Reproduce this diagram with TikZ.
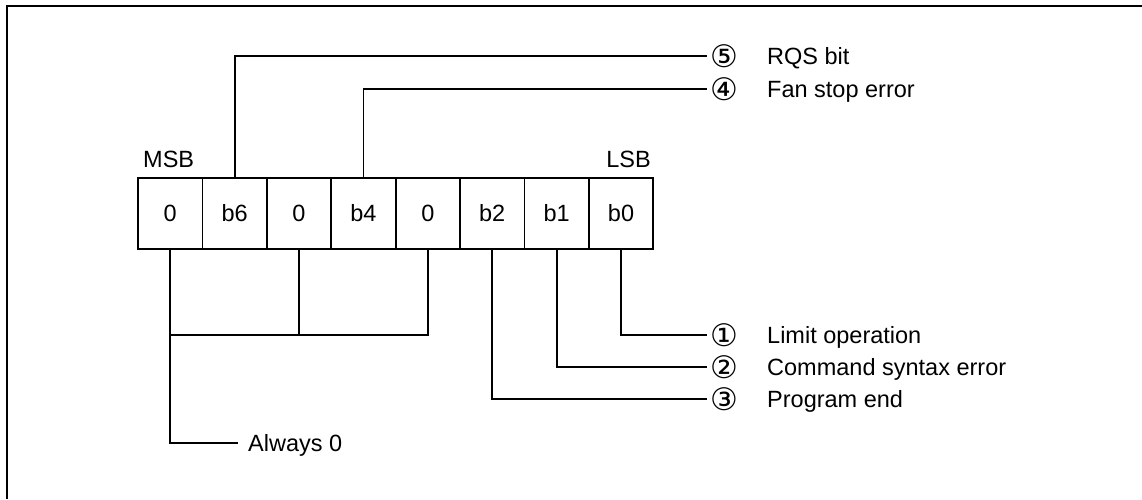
\documentclass[tikz,border=0pt]{standalone}
\usepackage{fontspec}
\setmainfont{Liberation Sans}
\newfontfamily\circfont{DejaVu Sans}
\begin{document}
\begin{tikzpicture}[x=1pt,y=-1pt,
  cell/.style={draw,line width=1.8pt,minimum width=64.4pt,minimum height=71pt,inner sep=0pt,font=\fontsize{23.5}{26}\selectfont},
  lbl/.style={anchor=base west,inner sep=0pt,font=\fontsize{23.5}{26}\selectfont},
  num/.style={anchor=west,inner sep=0pt,font=\circfont\fontsize{31}{34}\selectfont},
  wire/.style={line width=1.8pt}]
\useasboundingbox (0,0) rectangle (1142,499);
% frame
\draw[line width=2.6pt] (7,499) -- (7,6) -- (1142,6);
% register cells
\foreach \n/\t [count=\i from 0] in {c7/0,c6/b6,c5/0,c4/b4,c3/0,c2/b2,c1/b1,c0/b0}
  \node[cell] (\n) at ({170.2+64.4*\i},213.5) {\t};
\node[lbl] (msb) at (143,167) {MSB};
\node[lbl,anchor=base east] (lsb) at (651,167) {LSB};
% right side labels
\foreach \k/\y/\txt in {5/56/RQS bit,4/89/Fan stop error,1/335/Limit operation,2/367/Command syntax error,3/399/Program end}{
  \coordinate (e\k) at (707,\y);
  \node[num] (n\k) at (710,\y) {\ifcase\k\or ①\or ②\or ③\or ④\or ⑤\fi};
  \node[lbl] (t\k) at (767,\y+8.3) {\txt};
}
\coordinate (ea) at (238,443);
\node[lbl] (ta) at (248,451.3) {Always 0};
\coordinate (jy) at (0,335);
% connectors
\draw[wire] (c6.north) |- (e5);
\draw[wire] (c4.north) |- (e4);
\draw[wire] (c0.south) |- (e1);
\draw[wire] (c1.south) |- (e2);
\draw[wire] (c2.south) |- (e3);
\draw[wire] (c7.south) |- (ea);
\draw[wire] (c5.south) -- (c5.south |- jy);
\draw[wire] (c3.south) |- (c7.south |- jy);
\end{tikzpicture}
\end{document}
